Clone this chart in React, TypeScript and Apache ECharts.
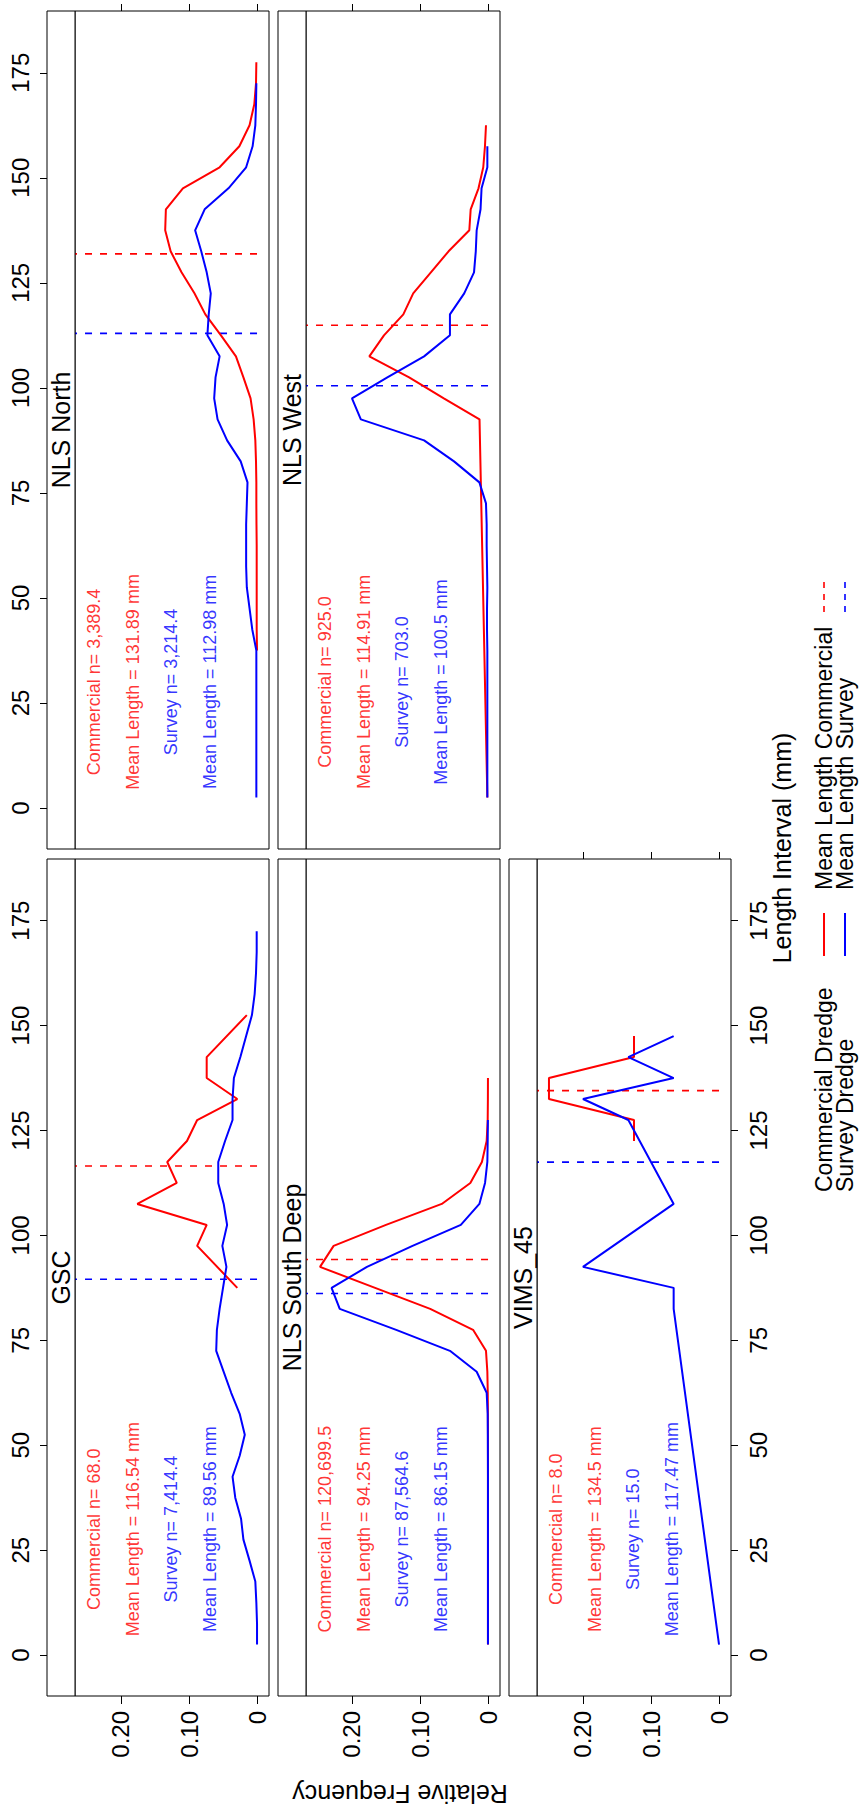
import React, { useEffect, useRef } from "react";
import * as echarts from "echarts";

// ---------------- data ----------------
const panelNames = ["NLS North", "NLS West", "GSC", "NLS South Deep", "VIMS_45"];

const freqTicks = [0, 0.1, 0.2];
const lengthTicks = [0, 25, 50, 75, 100, 125, 150, 175];

// NLS North
const nlsNorthCommLen = [37.5, 42.5, 47.5, 52.5, 57.5, 62.5, 67.5, 72.5, 77.5, 82.5, 87.5, 92.5, 97.5, 102.5, 107.5, 112.5, 117.5, 122.5, 127.5, 132.5, 137.5, 142.5, 147.5, 152.5, 157.5, 162.5, 167.5, 172.5, 177.5];
const nlsNorthCommFreq = [0, 0.0005, 0.0005, 0.0005, 0.0005, 0.0005, 0.0008, 0.001, 0.001, 0.0015, 0.0025, 0.005, 0.0095, 0.02, 0.031, 0.053, 0.076, 0.092, 0.111, 0.127, 0.135, 0.134, 0.109, 0.055, 0.026, 0.011, 0.004, 0.0015, 0.001];
const nlsNorthSurvLen = [2.5, 7.5, 12.5, 17.5, 22.5, 27.5, 32.5, 37.5, 42.5, 47.5, 52.5, 57.5, 62.5, 67.5, 72.5, 77.5, 82.5, 87.5, 92.5, 97.5, 102.5, 107.5, 112.5, 117.5, 122.5, 127.5, 132.5, 137.5, 142.5, 147.5, 152.5, 157.5, 162.5, 167.5, 172.5];
const nlsNorthSurvFreq = [0.001, 0.001, 0.001, 0.001, 0.001, 0.001, 0.001, 0.001, 0.007, 0.011, 0.015, 0.016, 0.016, 0.016, 0.015, 0.014, 0.024, 0.044, 0.058, 0.063, 0.061, 0.055, 0.073, 0.071, 0.068, 0.074, 0.082, 0.091, 0.077, 0.042, 0.016, 0.0065, 0.0025, 0.0015, 0.001];

// NLS West
const nlsWestCommLen = [2.5, 92.5, 97.5, 102.5, 107.5, 112.5, 117.5, 122.5, 127.5, 132.5, 137.5, 142.5, 147.5, 152.5, 157.5, 162.5];
const nlsWestCommFreq = [0.001, 0.0125, 0.065, 0.116, 0.1745, 0.153, 0.1245, 0.11, 0.084, 0.058, 0.0275, 0.0255, 0.014, 0.007, 0.0045, 0.003];
const nlsWestSurvLen = [2.5, 7.5, 12.5, 17.5, 22.5, 27.5, 32.5, 37.5, 42.5, 47.5, 52.5, 57.5, 62.5, 67.5, 72.5, 77.5, 82.5, 87.5, 92.5, 97.5, 102.5, 107.5, 112.5, 117.5, 122.5, 127.5, 132.5, 137.5, 142.5, 147.5, 152.5, 157.5];
const nlsWestSurvFreq = [0.001, 0.001, 0.001, 0.001, 0.001, 0.001, 0.001, 0.001, 0.0015, 0.0015, 0.001, 0.0015, 0.002, 0.002, 0.003, 0.0127, 0.05, 0.094, 0.187, 0.2, 0.148, 0.094, 0.056, 0.056, 0.035, 0.0206, 0.018, 0.0167, 0.011, 0.0095, 0.001, 0.001];

// GSC
const gscCommLen = [87.5, 97.5, 102.5, 107.5, 112.5, 117.5, 122.5, 127.5, 132.5, 137.5, 142.5, 152.5];
const gscCommFreq = [0.029, 0.088, 0.074, 0.176, 0.118, 0.132, 0.103, 0.088, 0.029, 0.074, 0.074, 0.015];
const gscSurvLen = [2.5, 7.5, 12.5, 17.5, 22.5, 27.5, 32.5, 37.5, 42.5, 47.5, 52.5, 57.5, 62.5, 67.5, 72.5, 77.5, 82.5, 87.5, 92.5, 97.5, 102.5, 107.5, 112.5, 117.5, 122.5, 127.5, 132.5, 137.5, 142.5, 147.5, 152.5, 157.5, 162.5, 167.5, 172.5];
const gscSurvFreq = [0, 0, 0.001, 0.0025, 0.011, 0.02, 0.0235, 0.032, 0.036, 0.0255, 0.018, 0.0255, 0.038, 0.049, 0.06, 0.059, 0.055, 0.05, 0.045, 0.051, 0.044, 0.049, 0.057, 0.057, 0.047, 0.036, 0.036, 0.034, 0.0245, 0.016, 0.0075, 0.0035, 0.0015, 0.0005, 0.0005];

// NLS South Deep
const southCommLen = [2.5, 7.5, 12.5, 17.5, 22.5, 27.5, 32.5, 37.5, 42.5, 47.5, 52.5, 57.5, 62.5, 67.5, 72.5, 77.5, 82.5, 87.5, 92.5, 97.5, 102.5, 107.5, 112.5, 117.5, 122.5, 127.5, 132.5, 137.5];
const southCommFreq = [0.0001, 0.0001, 0.0001, 0.0001, 0.0001, 0.0001, 0.0001, 0.0001, 0.0001, 0.0001, 0.0001, 0.0002, 0.0004, 0.001, 0.003, 0.022, 0.085, 0.166, 0.247, 0.227, 0.15, 0.068, 0.026, 0.009, 0.002, 0.0005, 0.0002, 0.0001];
const southSurvLen = [2.5, 7.5, 12.5, 17.5, 22.5, 27.5, 32.5, 37.5, 42.5, 47.5, 52.5, 57.5, 62.5, 67.5, 72.5, 77.5, 82.5, 87.5, 92.5, 97.5, 102.5, 107.5, 112.5, 117.5, 122.5, 127.5];
const southSurvFreq = [0.0001, 0.0001, 0.0001, 0.0001, 0.0001, 0.0001, 0.0001, 0.0001, 0.0001, 0.0002, 0.0003, 0.0005, 0.002, 0.0167, 0.056, 0.135, 0.218, 0.23, 0.178, 0.111, 0.04, 0.0127, 0.0044, 0.001, 0.0005, 0.0002];

// VIMS_45
const vimsCommLen = [122.5, 127.5, 132.5, 137.5, 142.5, 147.5];
const vimsCommFreq = [0.125, 0.125, 0.25, 0.25, 0.125, 0.125];
const vimsSurvLen = [2.5, 82.5, 87.5, 92.5, 107.5, 127.5, 132.5, 137.5, 142.5, 147.5];
const vimsSurvFreq = [0, 0.0667, 0.0667, 0.2, 0.0667, 0.1333, 0.2, 0.0667, 0.1333, 0.0667];

const commercialMeans = [131.89, 114.91, 116.54, 94.25, 134.5];
const surveyMeans = [112.98, 100.5, 89.56, 86.15, 117.47];
const commercialN = ["3,389.4", "925.0", "68.0", "120,699.5", "8.0"];
const surveyN = ["3,214.4", "703.0", "7,414.4", "87,564.6", "15.0"];

// annotation anchor (frequency positions, length position)
const annotFreq = [0.24, 0.183, 0.126, 0.069];
const annotLength = 30;

const legendLabels = ["Commercial Dredge", "Survey Dredge", "Mean Length Commercial", "Mean Length Survey"];

// ---------------- layout / style ----------------
const FONT = "'Liberation Sans', Arial, Helvetica, sans-serif";
const RED = "#FF0000";
const BLUE = "#0000FF";
const X_MIN = -0.0176;
const X_MAX = 0.2676;
const Y_MIN = -9.76;
const Y_MAX = 189.7;

const COL_LEFT = [47, 278, 509];
const STRIP_W = 28;
const DATA_W = 194;
const ROW_TOP = [11, 859];
const ROW_H = [838, 837];

type Layout = { col: number; row: number; left: boolean; right: boolean; bottom: boolean; top: boolean };
const layouts: Layout[] = [
  { col: 0, row: 0, left: true, right: false, bottom: false, top: true },
  { col: 1, row: 0, left: false, right: false, bottom: false, top: true },
  { col: 0, row: 1, left: true, right: false, bottom: true, top: false },
  { col: 1, row: 1, left: false, right: false, bottom: true, top: false },
  { col: 2, row: 1, left: false, right: true, bottom: true, top: true },
];

const commLens = [nlsNorthCommLen, nlsWestCommLen, gscCommLen, southCommLen, vimsCommLen];
const commFreqs = [nlsNorthCommFreq, nlsWestCommFreq, gscCommFreq, southCommFreq, vimsCommFreq];
const survLens = [nlsNorthSurvLen, nlsWestSurvLen, gscSurvLen, southSurvLen, vimsSurvLen];
const survFreqs = [nlsNorthSurvFreq, nlsWestSurvFreq, gscSurvFreq, southSurvFreq, vimsSurvFreq];

function pairs(len: number[], freq: number[]) {
  return len.map((l, i) => [freq[i], l]);
}

function buildOption() {
  const grid: any[] = [];
  const xAxis: any[] = [];
  const yAxis: any[] = [];
  const series: any[] = [];
  const graphic: any[] = [];

  const tickStyle = { color: "#000", width: 1 };
  const labelBase = { color: "#000", fontFamily: FONT, fontSize: 24 };

  layouts.forEach((L, i) => {
    const left = COL_LEFT[L.col] + STRIP_W;
    const top = ROW_TOP[L.row];
    const h = ROW_H[L.row];
    grid.push({ left, top, width: DATA_W, height: h, show: true, borderColor: "#000", borderWidth: 1, backgroundColor: "transparent" });

    // strip
    graphic.push({
      type: "rect",
      shape: { x: COL_LEFT[L.col], y: top, width: STRIP_W, height: h },
      style: { fill: "#fff", stroke: "#000", lineWidth: 1 },
      z: 10,
    });
    graphic.push({
      type: "text",
      x: COL_LEFT[L.col] + STRIP_W / 2,
      y: top + h / 2,
      rotation: Math.PI / 2,
      style: { text: panelNames[i], fontSize: 25, fontFamily: FONT, fill: "#000", align: "center", verticalAlign: "middle" },
      z: 11,
    });

    const xMain = xAxis.length;
    xAxis.push({
      type: "value",
      gridIndex: i,
      min: X_MIN,
      max: X_MAX,
      inverse: true,
      position: "bottom",
      axisLine: { show: false, onZero: false },
      splitLine: { show: false },
      axisTick: { show: L.bottom, customValues: freqTicks, length: 8, lineStyle: tickStyle },
      axisLabel: {
        show: L.bottom,
        customValues: freqTicks,
        rotate: 90,
        margin: 15,
        align: "right",
        verticalAlign: "middle",
        formatter: (v: number) => (v === 0 ? "0" : v.toFixed(2)),
        ...labelBase,
      },
    });
    if (L.top) {
      xAxis.push({
        type: "value",
        gridIndex: i,
        min: X_MIN,
        max: X_MAX,
        inverse: true,
        position: "top",
        axisLine: { show: false, onZero: false },
        splitLine: { show: false },
        axisTick: { show: true, customValues: freqTicks, length: 7, lineStyle: tickStyle },
        axisLabel: { show: false },
      });
    }
    const yMain = yAxis.length;
    yAxis.push({
      type: "value",
      gridIndex: i,
      min: Y_MIN,
      max: Y_MAX,
      position: L.right ? "right" : "left",
      offset: L.right ? 0 : STRIP_W,
      axisLine: { show: false, onZero: false },
      splitLine: { show: false },
      axisTick: { show: L.left || L.right, customValues: lengthTicks, length: 7, lineStyle: tickStyle },
      axisLabel: {
        show: L.left || L.right,
        customValues: lengthTicks,
        rotate: 90,
        margin: 15,
        align: "center",
        verticalAlign: L.right ? "top" : "bottom",
        ...labelBase,
      },
    });

    const common = { xAxisIndex: xMain, yAxisIndex: yMain, symbol: "none", silent: true, connectNulls: true };
    series.push({
      ...common,
      type: "line",
      data: [[0, commercialMeans[i]], [X_MAX, commercialMeans[i]]],
      lineStyle: { color: RED, width: 1.6, type: [7, 8] },
      z: 2,
    });
    series.push({
      ...common,
      type: "line",
      data: [[0, surveyMeans[i]], [X_MAX, surveyMeans[i]]],
      lineStyle: { color: BLUE, width: 1.6, type: [7, 8] },
      z: 2,
    });
    series.push({
      ...common,
      type: "line",
      data: pairs(commLens[i], commFreqs[i]),
      lineStyle: { color: RED, width: 2 },
      z: 3,
    });
    series.push({
      ...common,
      type: "line",
      data: pairs(survLens[i], survFreqs[i]),
      lineStyle: { color: BLUE, width: 2 },
      z: 3,
    });
    const texts = [
      { t: "Commercial n= " + commercialN[i], c: RED },
      { t: "Mean Length = " + commercialMeans[i] + " mm", c: RED },
      { t: "Survey n= " + surveyN[i], c: BLUE },
      { t: "Mean Length = " + surveyMeans[i] + " mm", c: BLUE },
    ];
    series.push({
      type: "scatter",
      xAxisIndex: xMain,
      yAxisIndex: yMain,
      silent: true,
      symbolSize: 0.001,
      itemStyle: { color: "rgba(0,0,0,0)" },
      data: texts.map((tx, k) => ({
        value: [annotFreq[k], annotLength],
        label: {
          show: true,
          position: "inside",
          rotate: 90,
          formatter: tx.t,
          color: tx.c,
          fontSize: 18,
          fontFamily: FONT,
        },
      })),
      z: 5,
    });
  });

  // axis titles
  graphic.push({
    type: "text",
    x: 782,
    y: 848,
    rotation: Math.PI / 2,
    style: { text: "Length Interval (mm)", fontSize: 25, fontFamily: FONT, fill: "#000", align: "center", verticalAlign: "middle" },
  });
  graphic.push({
    type: "text",
    x: 400,
    y: 1794,
    rotation: Math.PI,
    style: { text: "Relative Frequency", fontSize: 25, fontFamily: FONT, fill: "#000", align: "center", verticalAlign: "middle" },
  });

  // legend (key)
  const rowsX = [824, 845];
  const colors = [RED, BLUE];
  for (let r = 0; r < 2; r++) {
    graphic.push({
      type: "text",
      x: rowsX[r],
      y: 1192,
      rotation: Math.PI / 2,
      style: { text: legendLabels[r], fontSize: 23, fontFamily: FONT, fill: "#000", align: "left", verticalAlign: "middle" },
    });
    graphic.push({
      type: "line",
      shape: { x1: rowsX[r], y1: 956, x2: rowsX[r], y2: 913 },
      style: { stroke: colors[r], lineWidth: 2 },
    });
    graphic.push({
      type: "text",
      x: rowsX[r],
      y: 890,
      rotation: Math.PI / 2,
      style: { text: legendLabels[r + 2], fontSize: 23, fontFamily: FONT, fill: "#000", align: "left", verticalAlign: "middle" },
    });
    graphic.push({
      type: "line",
      shape: { x1: rowsX[r], y1: 612, x2: rowsX[r], y2: 576 },
      style: { stroke: colors[r], lineWidth: 1.6, lineDash: [6, 6] },
    });
  }

  return {
    animation: false,
    backgroundColor: "#fff",
    grid,
    xAxis,
    yAxis,
    series,
    graphic,
  };
}

export default function App() {
  const ref = useRef<HTMLDivElement>(null);
  useEffect(() => {
    if (!ref.current) return;
    const chart = echarts.init(ref.current, undefined, { renderer: "svg" });
    chart.setOption(buildOption() as any);
    return () => chart.dispose();
  }, []);
  return (
    <div
      ref={ref}
      style={{ position: "absolute", left: 0, top: 0, width: 861, height: 1808, background: "#fff" }}
    />
  );
}
